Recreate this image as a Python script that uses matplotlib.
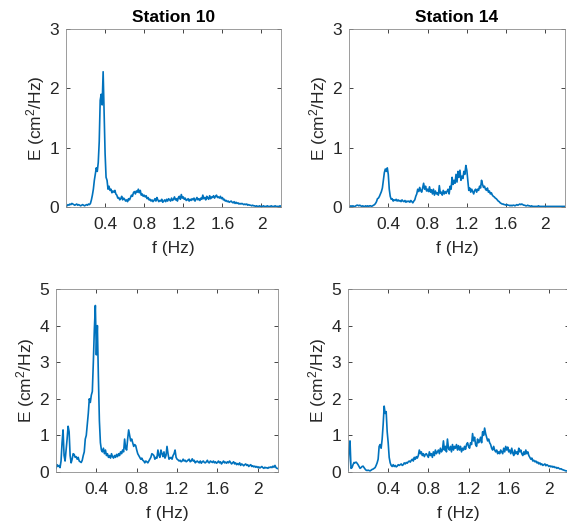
import numpy as np
import matplotlib
matplotlib.use("Agg")
import matplotlib.pyplot as plt

plt.rcParams['font.family'] = ['Liberation Sans', 'DejaVu Sans']
plt.rcParams['mathtext.default'] = 'regular'

f_step = 0.01  # Hz, spectral resolution

st10_top = [
    0.01,0.02,0.04,0.03,0.05,0.04,0.06,0.05,0.04,0.03,
    0.04,0.05,0.03,0.04,0.03,0.02,0.03,0.04,0.03,0.02,
    0.03,0.04,0.03,0.05,0.04,0.06,0.12,0.2,0.3,0.45,
    0.55,0.66,0.6,0.75,1.1,1.8,1.9,1.72,2.28,1.6,
    0.9,0.5,0.45,0.3,0.35,0.28,0.3,0.24,0.27,0.25,
    0.28,0.22,0.2,0.15,0.16,0.12,0.14,0.18,0.12,0.15,
    0.13,0.1,0.12,0.09,0.14,0.12,0.16,0.2,0.18,0.24,
    0.26,0.22,0.27,0.25,0.3,0.24,0.28,0.2,0.22,0.18,
    0.2,0.17,0.19,0.14,0.16,0.12,0.13,0.1,0.12,0.09,
    0.11,0.14,0.1,0.16,0.12,0.09,0.11,0.1,0.13,0.08,
    0.1,0.12,0.09,0.13,0.1,0.14,0.12,0.1,0.15,0.11,
    0.13,0.17,0.12,0.14,0.1,0.16,0.18,0.13,0.21,0.15,
    0.17,0.13,0.15,0.11,0.12,0.14,0.1,0.13,0.11,0.14,
    0.12,0.15,0.1,0.13,0.16,0.12,0.14,0.11,0.15,0.13,
    0.2,0.14,0.16,0.12,0.18,0.15,0.13,0.19,0.14,0.17,
    0.16,0.19,0.15,0.18,0.2,0.16,0.17,0.15,0.18,0.14,
    0.16,0.12,0.13,0.1,0.11,0.09,0.1,0.08,0.09,0.1,
    0.08,0.07,0.09,0.06,0.08,0.06,0.07,0.05,0.06,0.05,
    0.06,0.05,0.04,0.05,0.04,0.05,0.03,0.04,0.03,0.03,
    0.02,0.03,0.02,0.02,0.01,0.02,0.01,0.01,0.02,0.01,
    0.01,0.01,0.02,0.01,0.01,0.01,0.02,0.01,0.01,0.01,
    0.02,0.01,0.01,0.01,0.02,0.01,0.01,0.01,0.01,0.02,0.01,
]

st14_top = [
    0.01,0.01,0.02,0.01,0.02,0.01,0.01,0.02,0.03,0.03,
    0.02,0.03,0.02,0.01,0.02,0.01,0.01,0.02,0.01,0.02,
    0.01,0.02,0.02,0.01,0.02,0.03,0.04,0.06,0.09,0.14,
    0.15,0.18,0.22,0.26,0.32,0.45,0.58,0.64,0.6,0.66,
    0.55,0.3,0.18,0.13,0.14,0.1,0.12,0.11,0.13,0.1,
    0.12,0.1,0.11,0.09,0.12,0.1,0.09,0.11,0.08,0.1,
    0.09,0.1,0.08,0.11,0.09,0.07,0.1,0.12,0.18,0.22,
    0.3,0.26,0.33,0.28,0.25,0.32,0.4,0.3,0.35,0.27,
    0.3,0.26,0.34,0.25,0.29,0.22,0.3,0.2,0.27,0.22,
    0.24,0.2,0.36,0.23,0.25,0.2,0.28,0.22,0.26,0.23,
    0.27,0.3,0.22,0.35,0.3,0.5,0.38,0.45,0.4,0.55,
    0.42,0.6,0.5,0.62,0.45,0.52,0.48,0.6,0.55,0.7,
    0.62,0.45,0.28,0.32,0.25,0.3,0.26,0.22,0.28,0.3,
    0.25,0.3,0.28,0.35,0.32,0.45,0.38,0.33,0.35,0.3,
    0.28,0.32,0.25,0.27,0.22,0.24,0.2,0.18,0.17,0.15,
    0.14,0.12,0.1,0.09,0.07,0.06,0.05,0.05,0.04,0.04,
    0.03,0.04,0.03,0.03,0.02,0.03,0.02,0.03,0.03,0.02,
    0.03,0.04,0.03,0.04,0.05,0.04,0.05,0.04,0.03,0.03,
    0.02,0.02,0.03,0.02,0.02,0.01,0.02,0.01,0.01,0.01,
    0.01,0.01,0.01,0.02,0.01,0.01,0.01,0.01,0.01,0.01,
    0.01,0.01,0.01,0.01,0.01,0.01,0.01,0.01,0.01,0.01,
    0.01,0.01,0.01,0.01,0.01,0.01,0.01,0.01,0.01,0.01,0.01,
]

st10_bot = [
    0.1,0.2,0.15,0.18,0.12,0.3,0.8,1.15,0.45,0.3,
    0.6,0.9,1.25,1.1,0.45,0.25,0.35,0.5,0.48,0.4,
    0.42,0.35,0.4,0.3,0.28,0.26,0.32,0.45,0.55,0.9,
    1.0,1.3,1.6,2.0,1.9,2.1,2.2,3.0,3.9,4.55,
    3.2,4.0,2.6,1.4,0.8,0.6,0.55,0.65,0.5,0.6,
    0.45,0.5,0.4,0.45,0.38,0.5,0.42,0.38,0.45,0.4,
    0.48,0.42,0.5,0.45,0.55,0.5,0.6,0.55,0.9,0.65,
    0.6,0.9,1.15,1.0,0.85,0.9,0.8,0.7,0.75,0.72,
    0.6,0.5,0.45,0.4,0.35,0.38,0.32,0.3,0.25,0.3,
    0.28,0.25,0.3,0.35,0.4,0.5,0.48,0.45,0.35,0.4,
    0.38,0.6,0.45,0.4,0.6,0.5,0.42,0.55,0.38,0.45,
    0.7,0.5,0.35,0.38,0.4,0.35,0.45,0.5,0.6,0.4,
    0.35,0.33,0.3,0.32,0.28,0.3,0.35,0.3,0.32,0.28,
    0.3,0.33,0.35,0.28,0.3,0.36,0.3,0.32,0.25,0.28,
    0.3,0.27,0.25,0.3,0.24,0.28,0.3,0.26,0.25,0.28,
    0.32,0.26,0.25,0.3,0.28,0.26,0.3,0.25,0.28,0.24,
    0.26,0.3,0.25,0.28,0.22,0.26,0.3,0.25,0.27,0.24,
    0.28,0.25,0.3,0.26,0.22,0.25,0.28,0.22,0.25,0.2,
    0.23,0.2,0.25,0.18,0.22,0.2,0.17,0.2,0.22,0.18,
    0.2,0.15,0.18,0.2,0.15,0.17,0.14,0.16,0.13,0.15,
    0.12,0.14,0.11,0.13,0.15,0.12,0.1,0.13,0.11,0.12,
    0.1,0.13,0.12,0.14,0.12,0.16,0.13,0.18,0.12,0.1,0.09,
]

st14_bot = [
    0.05,0.6,0.85,0.1,0.12,0.2,0.26,0.25,0.27,0.24,
    0.2,0.15,0.1,0.12,0.15,0.16,0.12,0.08,0.05,0.04,
    0.05,0.04,0.03,0.05,0.07,0.08,0.1,0.12,0.18,0.25,
    0.35,0.7,0.75,0.65,0.9,1.3,1.8,1.6,1.65,1.1,
    0.8,0.4,0.25,0.18,0.15,0.2,0.15,0.18,0.14,0.16,
    0.2,0.18,0.2,0.22,0.18,0.2,0.25,0.22,0.26,0.24,
    0.28,0.3,0.27,0.32,0.35,0.3,0.4,0.35,0.42,0.38,
    0.45,0.6,0.5,0.55,0.45,0.5,0.42,0.48,0.5,0.45,
    0.4,0.55,0.45,0.5,0.4,0.55,0.45,0.6,0.5,0.55,
    0.6,0.5,0.65,0.55,0.6,0.85,0.6,0.7,0.55,0.9,
    0.65,0.6,0.7,0.55,0.75,0.6,0.7,0.65,0.75,0.6,
    0.72,0.6,0.7,0.55,0.65,0.6,0.7,0.62,0.75,0.8,
    0.7,0.65,0.8,0.75,1.05,0.85,0.95,0.75,0.7,0.9,
    0.8,0.85,0.95,0.8,1.1,1.0,1.2,1.05,0.95,0.85,
    0.9,0.8,0.75,0.65,0.6,0.7,0.6,0.55,0.6,0.5,
    0.55,0.5,0.6,0.55,0.5,0.65,0.55,0.7,0.6,0.68,
    0.55,0.6,0.5,0.65,0.52,0.45,0.6,0.5,0.55,0.48,
    0.65,0.55,0.6,0.5,0.45,0.55,0.48,0.6,0.5,0.55,
    0.45,0.4,0.35,0.38,0.3,0.32,0.28,0.3,0.25,0.27,
    0.22,0.25,0.2,0.22,0.18,0.2,0.22,0.17,0.2,0.18,
    0.15,0.17,0.14,0.16,0.13,0.15,0.12,0.13,0.1,0.12,
    0.1,0.08,0.09,0.07,0.06,0.05,0.04,0.03,0.03,0.02,0.02,
]

titles = ["Station 10", "Station 14"]
x_ticks = [0.4, 0.8, 1.2, 1.6, 2.0]
x_ticklabels = ["0.4", "0.8", "1.2", "1.6", "2"]
y_ticks_top = [0, 1, 2, 3]
y_ticks_bot = [0, 1, 2, 3, 4, 5]
xlabel = "f (Hz)"
ylabel = "E (cm$^2$/Hz)"

W, H = 567, 527
fig = plt.figure(figsize=(W / 100, H / 100), dpi=100)

def rect(l, r, t, b):
    return [l / W, 1 - b / H, (r - l) / W, (b - t) / H]

panels = [
    (rect(66, 281, 29, 207), st10_top, y_ticks_top, titles[0]),
    (rect(349, 565, 29, 207), st14_top, y_ticks_top, titles[1]),
    (rect(56, 278, 289, 472), st10_bot, y_ticks_bot, None),
    (rect(348, 569, 289, 472), st14_bot, y_ticks_bot, None),
]

axc = '#262626'
fs = 12.5
for r, vals, yt, title in panels:
    ax = fig.add_axes(r)
    vals = np.asarray(vals)
    freq = f_step * np.arange(len(vals))
    ax.plot(freq, vals, color='#0072BD', lw=1.2)
    ax.set_xlim(0, 2.2)
    ax.set_ylim(yt[0], yt[-1])
    ax.set_xticks(x_ticks)
    ax.set_xticklabels(x_ticklabels)
    ax.set_yticks(yt)
    ax.tick_params(direction='in', length=3, width=0.6, colors=axc,
                   labelsize=fs, top=True, right=True)
    ax.tick_params(axis='x', pad=7.5)
    ax.tick_params(axis='y', pad=5)
    for s in ax.spines.values():
        s.set_color('#8c8c8c')
        s.set_linewidth(0.6)
    ax.set_xlabel(xlabel, fontsize=fs, color=axc, labelpad=6)
    ax.set_ylabel(ylabel, fontsize=fs, color=axc, labelpad=2)
    if title:
        ax.set_title(title, fontsize=fs, fontweight='bold', color='black', pad=5)

fig.savefig("out.png", dpi=100)
